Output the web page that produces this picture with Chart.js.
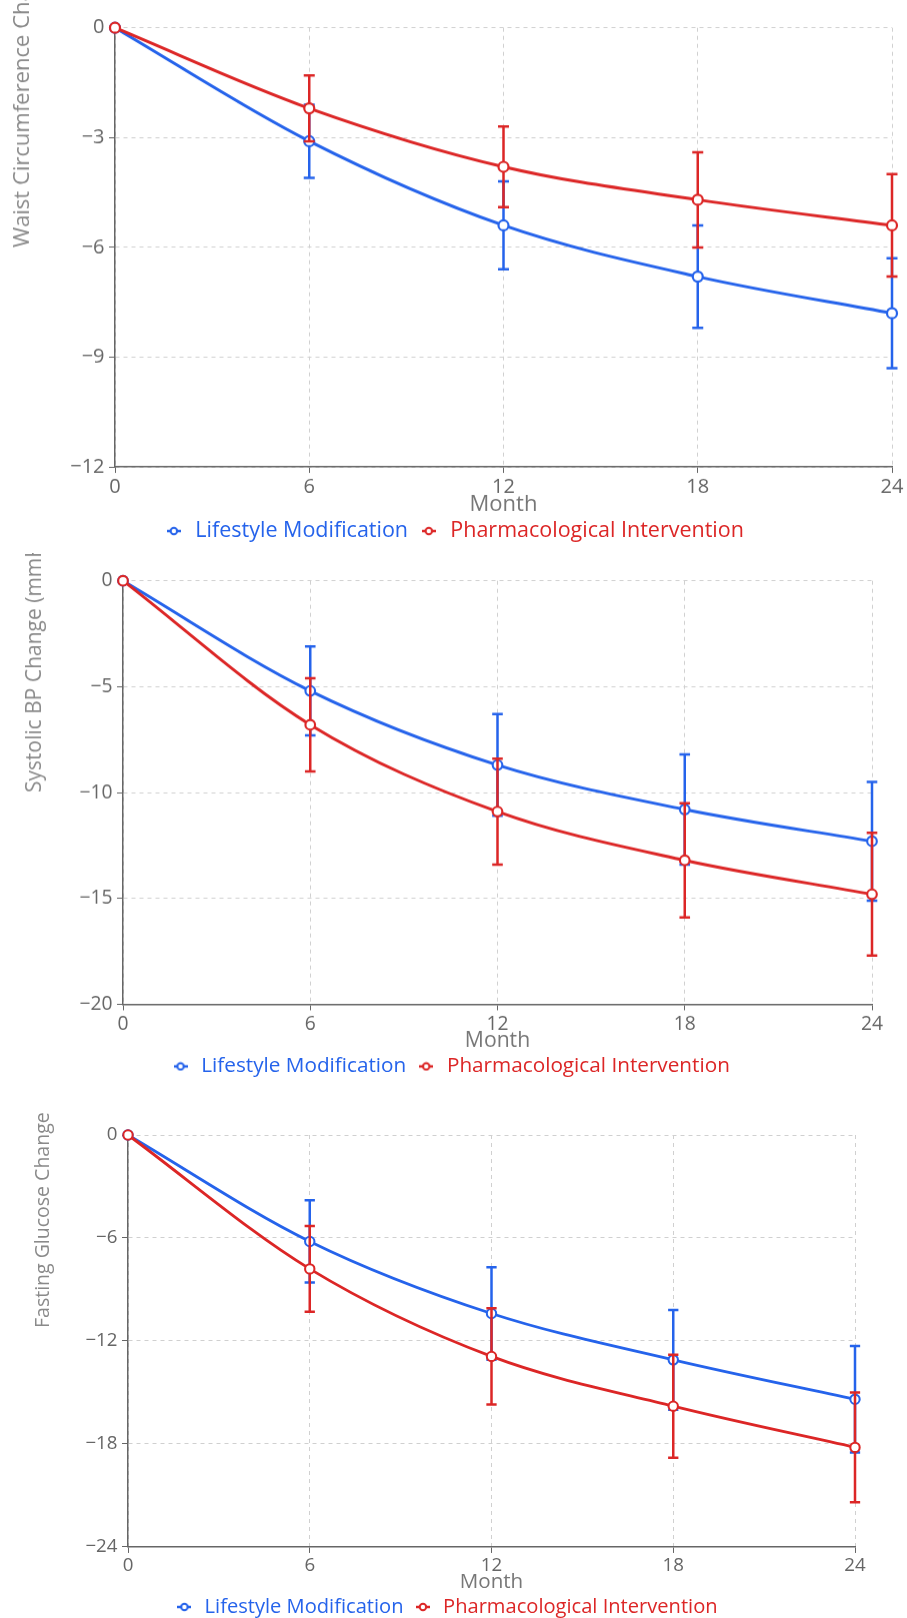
<!DOCTYPE html>
<html><head><meta charset="utf-8">
<script src="https://cdn.jsdelivr.net/npm/chart.js@4.4.0/dist/chart.umd.min.js"></script>
<style>
html,body{margin:0;padding:0;background:#fff;width:907px;height:1618px;overflow:hidden;position:relative;}
.box{position:absolute;left:0;width:907px;}
</style></head><body>
<div class="box" style="top:0;height:550.75px"><canvas id="c1"></canvas></div>
<div class="box" style="top:553px;height:532.84px"><canvas id="c2"></canvas></div>
<div class="box" style="top:1108px;height:519.06px"><canvas id="c3"></canvas></div>
<script>
// ---- data ----
const months = [0, 6, 12, 18, 24];
const monthTicks = [0, 6, 12, 18, 24];
const seriesNames = ['Lifestyle Modification', 'Pharmacological Intervention'];

const waistLifestyle = [0, -3.1, -5.4, -6.8, -7.8];
const waistLifestyleErr = [0, 1.0, 1.2, 1.4, 1.5];
const waistPharma = [0, -2.2, -3.8, -4.7, -5.4];
const waistPharmaErr = [0, 0.9, 1.1, 1.3, 1.4];
const waistTicks = [0, -3, -6, -9, -12];

const sbpLifestyle = [0, -5.2, -8.7, -10.8, -12.3];
const sbpLifestyleErr = [0, 2.1, 2.4, 2.6, 2.8];
const sbpPharma = [0, -6.8, -10.9, -13.2, -14.8];
const sbpPharmaErr = [0, 2.2, 2.5, 2.7, 2.9];
const sbpTicks = [0, -5, -10, -15, -20];

const glucoseLifestyle = [0, -6.2, -10.4, -13.1, -15.4];
const glucoseLifestyleErr = [0, 2.4, 2.7, 2.9, 3.1];
const glucosePharma = [0, -7.8, -12.9, -15.8, -18.2];
const glucosePharmaErr = [0, 2.5, 2.8, 3.0, 3.2];
const glucoseTicks = [0, -6, -12, -18, -24];

// ---- styling ----
const BLUE = '#2563eb';
const RED = '#dc2626';
const FONT = '"Open Sans", sans-serif';
const fmt = v => String(v).replace('-', '\u2212');

const errorBarPlugin = {
  id: 'errbars',
  beforeDatasetDraw(chart, args) {
    const ds = chart.data.datasets[args.index];
    if (!ds.errors) return;
    const x = chart.scales.x, y = chart.scales.y, ctx = chart.ctx;
    const cap = ds.capHalf || 5.5;
    ctx.save();
    ctx.strokeStyle = ds.borderColor;
    ctx.lineWidth = 2.5;
    ds.data.forEach((p, i) => {
      const e = ds.errors[i];
      if (!e) return;
      const px = x.getPixelForValue(p.x);
      const yt = y.getPixelForValue(p.y + e), yb = y.getPixelForValue(p.y - e);
      ctx.beginPath();
      ctx.moveTo(px, yt); ctx.lineTo(px, yb);
      ctx.moveTo(px - cap, yt); ctx.lineTo(px + cap, yt);
      ctx.moveTo(px - cap, yb); ctx.lineTo(px + cap, yb);
      ctx.stroke();
    });
    ctx.restore();
  }
};

const yTitlePlugin = {
  id: 'ytitle',
  afterDraw(chart, args, opts) {
    const ctx = chart.ctx;
    ctx.save();
    ctx.translate(opts.x, opts.y);
    ctx.rotate(-Math.PI / 2);
    ctx.font = opts.size + 'px ' + FONT;
    ctx.fillStyle = '#8a8a8a';
    ctx.textAlign = 'left';
    ctx.textBaseline = 'middle';
    ctx.fillText(opts.text, 0, 0);
    ctx.restore();
  }
};

function legendIcon(color) {
  const c = document.createElement('canvas');
  c.width = 14; c.height = 10;
  const g = c.getContext('2d');
  g.strokeStyle = color; g.lineWidth = 2.5;
  g.beginPath(); g.moveTo(0, 5); g.lineTo(14, 5); g.stroke();
  g.beginPath(); g.arc(7, 5, 3.2, 0, Math.PI * 2);
  g.fillStyle = '#fff'; g.fill(); g.lineWidth = 2; g.stroke();
  return c;
}
const icons = [legendIcon(BLUE), legendIcon(RED)];

function makeChart(id, cfg) {
  const k = cfg.k;
  const toPts = arr => months.map((m, i) => ({ x: m, y: arr[i] }));
  const mk = (label, vals, errs, color, order) => ({
    label, data: toPts(vals), errors: errs, capHalf: 5.5 * k,
    borderColor: color, backgroundColor: '#fff',
    borderWidth: 3 * k, pointRadius: 5 * k, pointBorderWidth: 2.2 * k,
    pointBackgroundColor: '#fff', pointBorderColor: color,
    cubicInterpolationMode: 'monotone', clip: false, order
  });
  new Chart(document.getElementById(id), {
    type: 'line',
    data: {
      datasets: [
        mk(seriesNames[0], cfg.a, cfg.ae, BLUE, 2),
        mk(seriesNames[1], cfg.b, cfg.be, RED, 1)
      ]
    },
    plugins: [errorBarPlugin, yTitlePlugin],
    options: {
      responsive: true, maintainAspectRatio: false, animation: false,
      layout: { padding: { top: cfg.top, right: cfg.lr, left: 0, bottom: 0 } },
      scales: {
        x: {
          type: 'linear', min: 0, max: 24,
          afterBuildTicks: s => { s.ticks = monthTicks.map(v => ({ value: v })); },
          afterFit: s => { s.paddingRight = cfg.right; s.paddingLeft = 0; },
          grid: { color: '#d0d0d0', tickColor: '#666', tickLength: 6 },
          border: { display: true, color: '#666', width: 1.5, dash: [4, 4] },
          ticks: { color: '#666', font: { family: FONT, size: 20 * k }, padding: cfg.pad, maxRotation: 0, callback: fmt },
          title: { display: true, text: 'Month', color: '#777', font: { family: FONT, size: 22 * k, lineHeight: 1 }, padding: { top: cfg.pt, bottom: cfg.pb } }
        },
        y: {
          type: 'linear', min: cfg.ticks[cfg.ticks.length - 1], max: 0,
          afterBuildTicks: s => { s.ticks = cfg.ticks.map(v => ({ value: v })); },
          afterFit: s => { s.width = cfg.left; },
          grid: { color: '#d0d0d0', tickColor: '#666', tickLength: 6 },
          border: { display: true, color: '#666', width: 1.5, dash: [4, 4] },
          ticks: { color: '#666', font: { family: FONT, size: 20 * k }, padding: 4.5, callback: fmt }
        }
      },
      plugins: {
        ytitle: { text: cfg.title, x: cfg.tx, y: cfg.ty, size: cfg.ts },
        tooltip: { enabled: false },
        legend: {
          position: 'bottom',
          labels: {
            usePointStyle: true, boxWidth: 21.5 * k, boxHeight: 21.5 * k, padding: 10 * k,
            font: { family: FONT, size: 21.5 * k },
            generateLabels: chart => chart.data.datasets.map((d, i) => ({
              text: d.label, fontColor: d.borderColor, pointStyle: icons[i],
              datasetIndex: i, hidden: false, lineWidth: 0,
              strokeStyle: d.borderColor, fillStyle: '#fff'
            }))
          }
        }
      }
    }
  });
}

makeChart('c1', { a: waistLifestyle, ae: waistLifestyleErr, b: waistPharma, be: waistPharmaErr,
  ticks: waistTicks, title: 'Waist Circumference Change (cm)', k: 1, left: 115, right: 15, lr: 0, top: 27.7,
  pad: 2.5, pt: -8, pb: -5.75, tx: 23, ty: 247, ts: 22 });
makeChart('c2', { a: sbpLifestyle, ae: sbpLifestyleErr, b: sbpPharma, be: sbpPharmaErr,
  ticks: sbpTicks, title: 'Systolic BP Change (mmHg)', k: 0.964, left: 123, right: 35, lr: 7, top: 27.7,
  pad: 2.9, pt: -9.06, pb: -5.1, tx: 35, ty: 239, ts: 21 });
makeChart('c3', { a: glucoseLifestyle, ae: glucoseLifestyleErr, b: glucosePharma, be: glucosePharmaErr,
  ticks: glucoseTicks, title: 'Fasting Glucose Change (mg/dL)', k: 0.936, left: 128, right: 52, lr: 15, top: 27,
  pad: 1.77, pt: -7.3, pb: -4.72, tx: 43, ty: 220, ts: 19.5 });
</script>
</body></html>
